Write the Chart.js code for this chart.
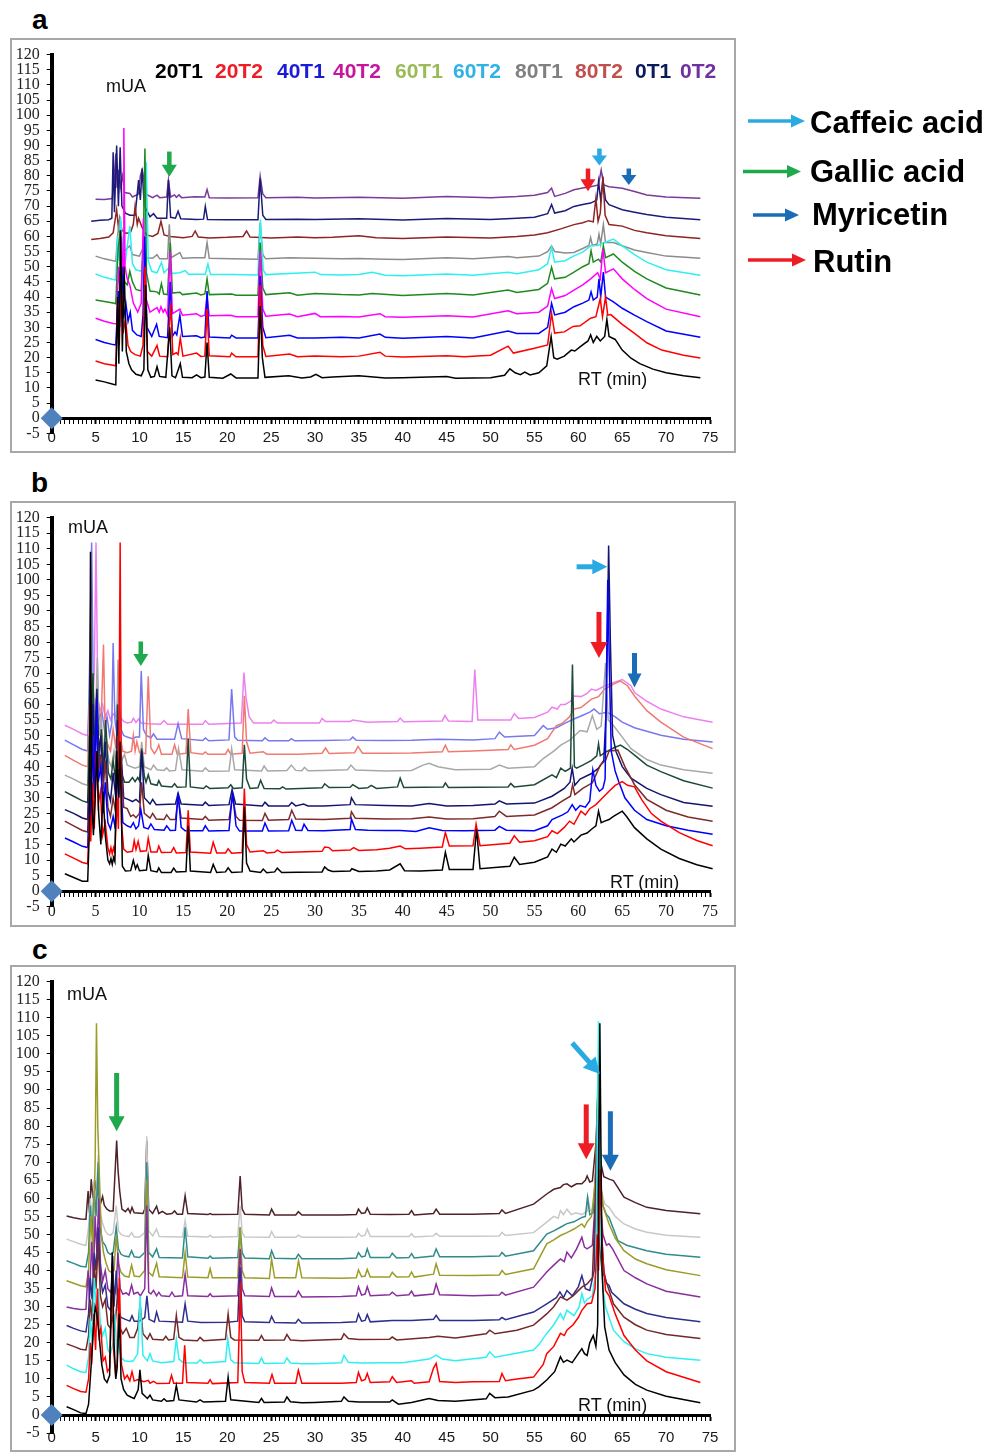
<!DOCTYPE html>
<html>
<head>
<meta charset="utf-8">
<script src="https://cdn.jsdelivr.net/npm/chart.js@4.4.1/dist/chart.umd.min.js"></script>
<style>
  body { margin: 0; width: 991px; height: 1452px; background: #fff; position: relative; overflow: hidden;
         font-family: "Liberation Sans", Arial, sans-serif; }
  .box { position: absolute; left: 10px; width: 726px; }
  .frame { position: absolute; left: 10px; width: 726px; border: 2px solid #a8a8a8; box-sizing: border-box; pointer-events: none; }
  .txt { position: absolute; line-height: 1; white-space: nowrap; }
  .tag { font-weight: bold; font-size: 28px; }
  .hdr { font-weight: bold; font-size: 21px; top: 60px; }
  .unit { font-size: 18px; color: #111; }
  .key { font-weight: bold; font-size: 31px; color: #000; }
</style>
</head>
<body>

<div class="txt tag" style="left:32px;top:6px">a</div>
<div class="txt tag" style="left:31px;top:469px">b</div>
<div class="txt tag" style="left:32px;top:936px">c</div>

<div class="box" style="top:38px;height:415px"><canvas id="chartA" width="726" height="415"></canvas></div>
<div class="frame" style="top:38px;height:415px"></div>
<div class="box" style="top:501px;height:426px"><canvas id="chartB" width="726" height="426"></canvas></div>
<div class="frame" style="top:501px;height:426px"></div>
<div class="box" style="top:965px;height:486px"><canvas id="chartC" width="726" height="486"></canvas></div>
<div class="frame" style="top:965px;height:487px"></div>

<div class="txt unit" style="left:106px;top:77px">mUA</div>
<div class="txt unit" style="left:68px;top:518px">mUA</div>
<div class="txt unit" style="left:67px;top:985px">mUA</div>
<div class="txt unit" style="left:578px;top:370px">RT (min)</div>
<div class="txt unit" style="left:610px;top:873px">RT (min)</div>
<div class="txt unit" style="left:578px;top:1396px">RT (min)</div>

<div id="sampleNames"></div>

<svg style="position:absolute;left:0;top:0" width="991" height="300">
  <g id="keyArrows"></g>
</svg>
<div class="txt key" style="left:810px;top:107px">Caffeic acid</div>
<div class="txt key" style="left:810px;top:156px">Gallic acid</div>
<div class="txt key" style="left:812px;top:199px">Myricetin</div>
<div class="txt key" style="left:813px;top:246px">Rutin</div>

<script>
Chart.defaults.animation = false;
Chart.defaults.font.family = '"Liberation Sans", Arial, sans-serif';

// sample names, panel a
const sampleNames = ['20T1', '20T2', '40T1', '40T2', '60T1', '60T2', '80T1', '80T2', '0T1', '0T2'];

// retention time / absorbance pairs (min, mUA), panel a
const a20T1 = [5,12.6, 6,12, 7,11.2, 7.3,11, 7.5,40, 7.65,18, 7.85,62, 8.05,22, 8.25,50, 8.5,22, 8.8,18, 9.1,16, 9.6,14.5, 10.2,14, 10.5,16, 10.7,44, 10.95,16, 11.3,13.5, 11.7,13.8, 12.0,17, 12.3,13.8, 13.0,13.5, 13.45,30, 13.7,14, 14.1,13.4, 14.3,15, 14.65,18, 14.9,13.5, 16.0,13.4, 16.5,14.3, 17.0,13.4, 17.45,13.6, 17.7,25, 17.95,13.5, 19.5,13.2, 20.4,14.6, 21,13.3, 23.5,13.3, 23.75,37, 24.0,20, 24.3,13.5, 27.0,14, 28.5,13.3, 29.5,13.6, 30.1,14.5, 30.8,13.4, 32,13.6, 35,14, 38,13.3, 40,13.4, 45,13.8, 46,13.2, 50,13.4, 51.6,14.2, 52.2,16.3, 52.8,15, 53.4,14.4, 53.9,15.2, 54.5,14.3, 55.5,15, 56.4,17.3, 56.9,27, 57.2,20, 57.6,19.5, 58.4,20.5, 59.2,22.5, 59.6,22.2, 60.3,23.8, 61.1,25.5, 61.4,27.5, 61.7,25, 62.1,27, 62.5,25.5, 63.0,27, 63.25,32.6, 63.5,27, 64.2,26, 65.0,22.5, 66.0,19.8, 67.0,18, 68.5,16.2, 70,15, 72,14, 73.9,13.4];
const a20T2 = [5,18.9, 6,18, 7,17.5, 7.3,17.3, 7.55,38, 7.7,24, 7.9,45, 8.15,28, 8.4,33, 8.7,24, 9.0,22, 9.5,21, 10.1,20.5, 10.4,24, 10.65,50, 10.9,22, 11.4,20.5, 12.0,24, 12.3,20.5, 13.2,20.3, 13.55,38, 13.8,21, 14.2,21.6, 14.4,21, 14.65,26.5, 14.95,20.5, 16.5,21.5, 17.0,20.4, 17.45,20.5, 17.7,36, 17.95,20.6, 20.3,20.3, 20.5,21.5, 21,20.3, 23.5,20.3, 23.75,44, 24.05,24, 24.4,20.4, 27.1,21.2, 28,20.3, 30,20.5, 33,20.3, 35,20.5, 37.4,21.8, 38,20.5, 40,20.2, 45,20.6, 47,20.3, 50,20.8, 52,23.8, 52.6,21.5, 55,23.1, 56.5,24.2, 56.95,34.6, 57.3,28.1, 58.4,28.5, 59.4,30.3, 60.2,30.5, 61.4,33, 62.0,33.5, 62.5,39.5, 62.75,33.5, 63.1,40, 63.35,34, 63.7,34.2, 65,31, 66.4,28, 67.8,24.9, 69.5,22.5, 72,20.8, 73.9,19.9];
const a40T1 = [5,26, 6,25, 7,24.3, 7.3,24.2, 7.6,42, 7.75,30, 8.0,50, 8.2,33, 8.45,38, 8.7,32, 8.95,35, 9.2,29, 9.7,27.5, 10.2,27, 10.4,34, 10.6,60, 10.85,30, 11.4,27, 11.95,31, 12.25,27, 13.2,26.6, 13.5,45, 13.75,27, 14.05,28.5, 14.25,27.5, 14.6,34, 14.9,27, 16.5,27.2, 17.0,26.6, 17.45,26.8, 17.7,42, 17.95,26.8, 20.3,26.5, 20.5,27.4, 21,26.5, 23.5,26.5, 23.75,47, 24.05,30, 24.4,26.6, 27.1,27.4, 28,26.5, 30,26.5, 33,26.7, 35,26.5, 37.4,27.8, 38,26.7, 40,26.4, 45,27, 48,26.5, 52,28.8, 53,28, 55.5,28, 56.5,30, 56.95,37.9, 57.3,34.1, 58.5,35, 59.5,36.8, 60.5,38, 61.2,39, 61.45,41.7, 61.7,39, 62.15,40, 62.35,46, 62.55,40, 62.85,48.2, 63.1,40, 64,38.4, 65,36.3, 66.4,34, 67.8,31.9, 70,28.8, 73.9,26.7];
const a40T2 = [5,33, 6,32, 7,31.3, 7.4,31.2, 7.6,50, 7.8,42, 7.95,60, 8.15,45, 8.22,95.8, 8.35,50, 8.6,46, 8.9,44, 9.3,38, 9.8,35, 10.2,38, 10.45,66, 10.7,40, 11.2,35, 12.0,36.5, 12.25,35, 12.45,36.8, 12.7,35, 12.9,36, 13.2,34, 13.5,55, 13.75,34.5, 14.6,36, 14.9,34, 16.5,34.5, 17.0,33.6, 17.45,34, 17.7,40, 17.95,33.8, 20.4,34, 21,33.5, 23.5,33.5, 23.75,55, 24.05,36, 24.4,33.7, 27.1,34.4, 28,33.5, 30,34.6, 30.6,33.5, 33,33.6, 35,33.4, 37.4,34.5, 38,33.5, 40,33.3, 45,33.8, 48,33.4, 52,35.5, 53,34.5, 55.5,35, 56.5,37, 56.95,42.8, 57.3,39.5, 58.5,40.5, 59.5,42.3, 60.5,44, 61.4,46, 62.2,48, 62.5,46, 62.8,55.8, 63.1,48, 64,49.3, 65,46, 66.4,42.5, 67.8,39.5, 70,36, 73.9,33.5];
const a60T1 = [5,39, 6,38.5, 7,38, 7.3,37.8, 7.55,55, 7.8,62, 8.05,50, 8.3,45, 8.6,44, 8.9,48.5, 9.2,45, 9.6,42.5, 10.2,42, 10.45,60, 10.62,89, 10.8,48, 11.2,42, 12.0,41.7, 12.25,41, 12.5,44.4, 12.75,41, 13.2,40.8, 13.5,58, 13.75,41.3, 14.6,41.6, 14.9,40.8, 16.5,41.3, 17.0,40.7, 17.45,41, 17.7,46, 17.95,40.8, 20.5,41, 21,40.6, 23.5,40.6, 23.75,58, 24.05,43, 24.4,40.8, 27.1,41.4, 28,40.6, 30,41.2, 33,40.8, 35,40.7, 36.5,41.2, 40,40.5, 45,41.2, 48,40.7, 52,42.3, 53,41.5, 55.5,42.5, 56.5,44.5, 56.95,49.8, 57.3,46, 58.5,46.5, 59.5,48.2, 60.5,50, 61.2,51, 61.45,55.3, 61.7,51.5, 62.3,52.5, 62.55,51.5, 62.85,56.9, 63.1,53, 64,54.2, 65,51.5, 66.4,48.5, 67.8,46, 70,43, 73.9,40.7];
const a60T2 = [5,47.6, 6,46.5, 7,45.8, 7.3,45.6, 7.5,60, 7.7,52, 7.85,66.6, 8.1,55, 8.4,52, 8.9,63.4, 9.2,51, 9.6,49, 10.2,48.5, 10.5,55, 10.78,84.5, 11.0,52, 11.4,48.5, 12.0,48, 12.5,51.4, 12.8,48, 13.3,49.5, 13.6,47.8, 14.6,48, 15.2,48.7, 15.6,47.5, 17.5,47.5, 17.8,50.9, 18.1,47.4, 20.5,47.4, 23.5,47.3, 23.78,65.6, 24.1,49, 24.4,47.4, 27.1,47.8, 30,48.2, 30.6,47.4, 33,47.3, 35,47.4, 36.5,48.2, 38,47.2, 40,47, 45,47.6, 48,47.2, 52,48.2, 53,47.7, 55.5,49, 56.5,51, 56.95,56.4, 57.3,51.5, 58.5,52, 59.5,53.6, 60.5,54.8, 61.4,56.9, 62.2,57, 63,58, 64,59.1, 65,56.9, 66.4,54, 67.8,51.5, 70,49, 73.9,47.2];
const a80T1 = [5,53.5, 6,52.6, 7,52, 7.3,51.8, 7.5,60, 7.7,64.5, 7.9,58, 8.2,55, 8.9,56.9, 9.2,54, 10.0,53.5, 10.3,55.5, 10.6,53, 11.5,52.8, 12.0,54, 12.3,52.6, 13.2,52.6, 13.4,64, 13.6,53, 14.6,54.7, 14.9,52.8, 16.3,53, 17.45,53, 17.7,58, 17.95,52.8, 20.5,52.6, 23.5,52.5, 23.75,64.5, 24.05,54, 24.4,52.6, 27.1,53, 30,52.8, 33,52.6, 35,52.7, 38,52.5, 40,52.4, 45,53, 48,52.6, 52,53.4, 53,53, 55.5,53.5, 56.5,55, 56.95,56.9, 57.3,55, 58.5,54.5, 59.5,54.7, 60.5,56, 61.2,57, 61.4,59.6, 61.6,57, 62.15,57.5, 62.35,60.7, 62.55,57.5, 62.85,63.9, 63.1,58, 64,58, 65,56.9, 66.4,55.5, 67.8,54.7, 70,53.5, 73.9,52.8];
const a80T2 = [4.5,59, 5.5,59.3, 6.5,59.8, 7.0,61.2, 7.4,68.8, 7.6,63, 7.75,66, 8.0,62, 8.5,61, 9.0,61.5, 9.3,64, 9.5,69.9, 9.75,64, 9.9,66, 10.3,63, 10.8,60.5, 11.5,60, 12.1,61, 12.45,65, 12.8,60.5, 13.5,60, 15,59.6, 16.0,60, 16.35,61.8, 16.7,59.8, 18,59.5, 20,59.7, 21.8,60, 22.2,61.8, 22.6,59.8, 25,59.5, 28,59.8, 30,59.6, 32,59.7, 35,60.2, 37,59.6, 40,59.3, 45,59.8, 50,59.5, 53,60, 55,60.5, 56.5,61.2, 58,62.5, 59.5,63.9, 60.5,64.5, 61.2,65.2, 61.7,64.8, 62.0,72.6, 62.25,65, 62.5,67.7, 62.8,79.7, 63.05,67, 63.5,63.9, 65,63.4, 66.4,62, 67.8,61.2, 70,60.2, 73.9,59.3];
const a0T1 = [4.5,65, 5.5,65.3, 6.5,65.5, 6.85,66, 7.0,87.8, 7.15,68, 7.4,90, 7.6,70, 7.8,89.4, 8.0,70, 8.4,67.7, 8.9,67, 9.5,67, 9.9,78.6, 10.1,72, 10.3,82.4, 10.55,70, 10.8,68.8, 11.2,66.5, 11.6,67.5, 12.0,66, 13.1,66, 13.3,78.6, 13.55,66.3, 14.1,66, 14.4,68.3, 14.7,65.8, 16.5,65.6, 17.3,65.7, 17.5,69.9, 17.75,65.6, 20,65.5, 23.5,65.5, 23.75,79.1, 24.05,67, 24.4,65.6, 28,65.7, 30,65.6, 35,65.8, 40,65.4, 45,65.9, 50,65.6, 53,66, 55,66.3, 56.5,67.5, 56.95,70.5, 57.3,67.7, 58.5,68.5, 59.5,69.9, 60.5,70.5, 61.4,71, 62.1,72, 62.3,78.1, 62.55,72, 62.8,78.6, 63.1,72, 63.5,70.5, 65,68.8, 66.4,68, 67.8,67.2, 70,66.3, 73.9,65.5];
const a0T2 = [5,72.3, 6,72.2, 6.9,72.5, 7.1,78, 7.3,87.3, 7.45,76, 7.65,82, 7.8,76, 8.05,80, 8.3,74.5, 8.9,74.2, 9.2,73, 9.9,74, 10.1,80, 10.3,82, 10.5,79, 10.7,74, 11.5,72.8, 12.0,73.6, 12.3,72.8, 13.1,73, 13.3,78.6, 13.55,73, 14.0,73.7, 14.2,72.9, 14.5,73.7, 14.8,72.8, 16.3,73.1, 17.45,73, 17.7,75.5, 17.95,72.8, 20,72.7, 23.5,72.8, 23.75,79.9, 24.05,74, 24.4,72.8, 28,72.9, 30,72.7, 35,72.9, 40,72.6, 45,73.2, 50,72.8, 53,73.2, 55,73.6, 56.5,74.5, 56.95,75.9, 57.3,73.2, 58.5,74.2, 59.5,75.4, 60.5,76, 61.4,76.4, 62.3,77, 62.6,81.9, 62.9,77, 63.5,76.4, 65,75.9, 66.4,74.8, 67.8,73.7, 70,73, 73.9,72.6];

// panel b, bottom trace to top trace
const b1 = [1.5,5.6, 2.5,4.4, 3.5,3.2, 4.1,3.2, 4.3,20, 4.42,109, 4.55,30, 4.75,18, 4.95,30, 5.15,45, 5.35,25, 5.6,15, 5.85,32, 6.1,18, 6.4,10, 6.6,8.8, 6.75,10.5, 6.9,8.6, 7.05,10.8, 7.2,9.5, 7.4,45, 7.6,30, 7.8,48, 8.05,8, 8.4,6.5, 9.0,6.6, 9.3,9.9, 9.55,7.2, 9.75,8.5, 10.0,6.6, 10.8,6.8, 11.0,11.5, 11.3,6.6, 12.0,6.2, 12.2,7.5, 12.5,6, 13.6,6, 13.9,7.4, 14.2,6.2, 15.3,6.3, 15.55,21, 15.8,6.5, 18.1,6, 18.4,8.6, 18.8,6, 19.8,6.2, 20.1,7.5, 20.5,6, 21.7,6.2, 21.95,27, 22.2,9, 22.6,6.5, 23.8,6, 24.1,7.1, 24.5,5.9, 25.4,6.2, 25.7,7.4, 26.2,6, 28,6.1, 30.8,6.2, 31.1,7.8, 31.5,6.8, 32,6.3, 34,6.5, 34.2,7.2, 35,6.3, 37,6.5, 38.5,6.8, 39.7,8.8, 40.2,6.6, 42,6.5, 44.5,6.8, 44.85,12.5, 45.3,7, 48.0,7, 48.4,19.9, 48.8,7.2, 52.2,8, 52.7,10.9, 53.3,8.6, 55,9.3, 56.5,11, 57,13.5, 57.5,12.5, 58,15.1, 58.5,14.5, 59.2,16.8, 59.5,15.8, 60.3,18, 61,18.7, 61.5,19.9, 62.0,21, 62.3,25.7, 62.6,22, 63,22.5, 63.5,23, 64,24, 65,25.7, 65.5,24, 66.4,20.4, 67.8,16.8, 69.4,13.5, 71.5,10.5, 73.5,8.5, 75.3,7.2];
const b2 = [1.5,12, 2.5,10.6, 3.5,9.2, 4.1,8.8, 4.3,25, 4.45,16, 4.65,35, 4.85,20, 5.1,45, 5.3,28, 5.55,32, 5.8,18, 6.1,22, 6.4,14, 6.6,12, 6.75,14, 6.9,12, 7.05,14, 7.2,12.5, 7.45,30, 7.6,20, 7.8,112, 7.95,22, 8.2,13.5, 8.6,12.5, 9.2,12.8, 9.4,16.2, 9.6,13.4, 9.85,16, 10.1,12.8, 10.8,13, 11.0,17, 11.3,12.6, 12.0,12.6, 12.2,14.5, 12.5,12.4, 13.6,12.5, 13.9,14, 14.2,12.3, 15.3,12.4, 15.55,26, 15.8,12.6, 18.1,12.2, 18.4,15.7, 18.8,12.3, 19.8,12.3, 20.1,13.6, 20.5,12.2, 21.7,12.4, 21.95,33, 22.2,15, 22.6,12.6, 24.1,13, 24.5,12.3, 25.4,12.5, 25.7,13.2, 26.2,12.4, 28,12.6, 30.8,12.8, 31.1,14.2, 31.6,14, 32,13, 34,13.2, 34.4,14, 35,13.1, 37,13.3, 38.5,13.8, 39.7,14.5, 40.3,13.6, 42,13.8, 44.5,14.2, 44.85,18.8, 45.3,14.5, 48,14.6, 48.35,21.5, 48.8,14.6, 52.2,15.4, 52.7,17.8, 53.3,15.7, 55,16.2, 56.5,17.5, 57,19.4, 57.6,18.5, 58.4,20.5, 59,22.5, 59.5,21.5, 60.3,25.7, 60.8,24.5, 61.3,26.5, 62,27.8, 62.6,29.5, 63.5,32.1, 64.2,34, 65,35.2, 65.6,34, 66.4,33.5, 67.2,29.5, 68.3,25, 69.4,22.5, 71.5,18.8, 73.5,16.3, 75.3,14.6];
const b3 = [1.5,17.1, 2.5,15.8, 3.5,14.4, 4.1,14, 4.3,30, 4.45,22, 4.65,50, 4.85,30, 5.1,62, 5.3,35, 5.6,40, 5.85,25, 6.1,35, 6.4,22, 6.7,20, 7.0,24, 7.25,20, 7.45,42, 7.65,30, 7.85,38, 8.1,22, 8.6,21, 9.0,20.5, 9.3,22, 9.6,20, 9.9,21, 10.15,26.3, 10.5,20.5, 11.0,20, 11.3,21.6, 11.7,19.8, 12.8,19.6, 13.1,21, 13.5,19.5, 14.1,19.6, 14.4,31.6, 14.75,20.5, 15.2,19.4, 17.2,19.4, 17.5,21, 17.9,19.3, 20.2,19.5, 20.6,31.6, 21.0,21, 21.4,19.3, 24,19.3, 24.3,21.9, 24.7,19.3, 27,19.4, 27.35,22.8, 27.8,19.6, 28.5,19.5, 28.75,21.5, 29.2,19.5, 31,19.4, 34,19.8, 34.15,23.2, 34.6,19.8, 36,19.6, 38,19.5, 39.7,19.5, 41.5,19.2, 43,20.4, 44.5,19.5, 47,19.4, 50.5,19.6, 51,20.8, 51.8,19.6, 55,19.4, 56.5,21, 57,23, 58.2,24.5, 58.8,25.5, 59.3,27.8, 59.7,26, 60.2,27.5, 60.8,27, 61.3,29, 61.65,39, 62,34, 62.4,32.1, 62.8,33, 63.05,36, 63.35,100, 63.55,70, 63.75,45, 64.2,38.5, 64.6,35.2, 65.3,30, 66.4,26, 67.8,23, 70,21, 72.5,19.6, 75.3,18.3];
const b4 = [1.5,22.5, 2.5,21, 3.5,19.5, 4.1,19, 4.3,35, 4.45,26, 4.7,50, 4.9,32, 5.1,58, 5.35,38, 5.55,44, 5.8,30, 6.1,42, 6.4,27, 6.7,24, 7.0,30, 7.3,25, 7.5,50, 7.7,35, 7.9,40, 8.2,27, 8.6,26.5, 9.0,24, 9.3,24.5, 9.6,23.6, 10.0,25, 10.25,35, 10.55,25, 11.2,23.5, 11.5,25, 11.9,23.2, 12.8,23, 13.1,24.5, 13.5,23, 14.1,23, 14.4,30, 14.75,23.5, 17.2,23, 17.5,24, 17.9,22.8, 20.2,23, 20.6,30.5, 21.0,24, 21.4,22.8, 24,22.7, 24.3,25, 24.7,22.8, 27,23, 27.35,26, 27.8,23.2, 31,23, 34,23.4, 34.15,25.5, 34.6,23.4, 38,23.2, 41,23.3, 43,23.8, 45,23.2, 48,23.3, 50.5,24, 51,25.7, 51.8,24, 55,24.5, 57,26.8, 58.2,29, 59.1,30.5, 59.35,34.2, 59.6,31, 60.5,33, 61.6,34.8, 62.5,40.5, 63.1,42, 63.5,45, 64.5,45.3, 65.3,40, 66.4,34.2, 67.8,29.5, 70,26, 72.5,23.8, 75.3,22.5];
const b5 = [1.5,26.2, 2.5,25, 3.5,23.5, 4.1,23, 4.3,40, 4.45,30, 4.7,60, 4.9,38, 5.15,65, 5.35,45, 5.6,50, 5.85,35, 6.1,48, 6.4,32, 6.7,29, 7.0,38, 7.3,30, 7.5,55, 7.7,40, 7.9,45, 8.2,30, 8.7,29.5, 9.2,28.8, 9.6,29.5, 10.0,28.5, 10.25,45, 10.55,30, 11.2,28, 11.5,29.5, 11.9,27.8, 14.1,28, 14.4,31.5, 14.75,28, 17.2,27.6, 17.5,28.6, 17.9,27.5, 20.2,27.8, 20.55,32.6, 20.95,28, 24,27.4, 24.3,28.6, 24.7,27.4, 27,27.4, 27.35,28.5, 27.8,27.4, 28.7,28, 29.2,27.4, 31,27.4, 34,27.8, 34.15,30, 34.6,27.8, 38,27.5, 41,27.4, 43,28.2, 45,27.4, 48,27.5, 50.5,28, 51,29, 51.8,28, 55,28.3, 57,30.5, 58.4,33, 59.05,35, 59.3,39.5, 59.6,34, 60.2,36, 61.5,37.8, 62.3,39.5, 62.9,42, 63.2,60, 63.45,111, 63.65,80, 63.9,50, 64.3,44.8, 65,40, 66,36.3, 67.8,33, 69.4,31, 72,28.5, 75.3,27.3];
const b6 = [1.5,32, 2.5,30.5, 3.5,29, 4.1,28.5, 4.3,50, 4.45,38, 4.7,70, 4.9,45, 5.15,60, 5.4,42, 5.65,52, 5.9,38, 6.15,55, 6.45,38, 6.75,36, 7.0,42, 7.3,35, 7.5,60, 7.7,45, 7.95,38, 8.3,35, 8.8,35, 9.2,36.5, 9.5,35.2, 9.8,36.5, 10.0,35.5, 10.25,45.8, 10.55,37, 10.75,35, 11.0,37.4, 11.3,34.5, 12.0,34, 12.2,35.5, 12.5,33.8, 13.7,33.5, 14.0,34.5, 14.3,33.4, 15.3,33.5, 15.55,49, 15.8,33.5, 17.3,33, 17.6,33.8, 18.0,33, 20.1,33.2, 20.4,34.2, 20.7,33, 21.7,33.2, 21.95,47, 22.2,36, 22.6,33, 23.5,33.2, 23.8,35.6, 24.2,33, 26,32.9, 26.3,33.5, 26.7,32.8, 30.8,33.2, 31.1,34.5, 31.6,33.3, 34,33.4, 34.3,34.2, 35,33, 36,33.2, 36.4,34, 37,33, 39.4,33.5, 39.7,36.3, 40.1,33.3, 44.6,33.5, 44.85,34.8, 45.2,33.3, 52,33.5, 52.3,34.6, 52.7,33.5, 55,34.2, 57,37.4, 57.5,36.5, 58,39.5, 58.5,38.5, 59.1,39.5, 59.33,72.8, 59.55,40, 59.8,39.5, 60.5,40.5, 61.5,42, 62.1,43.5, 62.3,47.4, 62.5,43.5, 63,44.5, 64,46, 64.8,46.9, 65.6,45.5, 66.4,43.7, 67.8,40.5, 69.4,38.4, 72,35.5, 75.3,33.1];
const b7 = [1.5,37.3, 2.5,36, 3.5,34.5, 4.1,34, 4.3,55, 4.45,42, 4.7,65, 4.9,48, 5.2,75, 5.4,50, 5.65,55, 5.9,45, 6.15,50, 6.5,42, 6.8,40, 7.1,45, 7.35,40, 7.55,74.4, 7.75,48, 8.0,42, 8.3,44, 8.6,40.5, 9.5,39.5, 10.0,40, 10.25,48, 10.55,40, 11.3,39, 11.6,40.5, 12,39, 12.8,38.8, 13.1,39.6, 13.4,38.6, 14.1,38.8, 14.45,45.8, 14.85,39, 17.2,38.5, 17.5,39.6, 17.9,38.5, 20.2,38.6, 20.5,45.8, 20.85,39, 23.9,38.6, 24.2,40.2, 24.6,38.6, 26.8,38.8, 27.3,40.5, 27.8,38.8, 28.5,38.7, 28.8,39.8, 29.2,38.7, 31,38.8, 33.7,39, 34.1,40.5, 34.6,38.9, 38,38.6, 41,38.8, 42.3,40.5, 43,41.1, 44,40, 46,39, 50,39.2, 51,40.5, 52,39.5, 55,40, 56,42.6, 57.2,45, 58,46.9, 59,48.5, 59.6,50, 60.2,51.6, 61,51.2, 61.6,56.4, 62.1,52, 62.6,53, 63.1,73.3, 63.4,55, 64,53.2, 65,49.5, 66,45.8, 67.8,42.3, 69.4,40.5, 72,39, 75.3,37.9];
const b8 = [1.5,43.6, 2.5,42, 3.5,40.5, 4.1,40, 4.3,60, 4.45,48, 4.7,68, 4.9,52, 5.15,62, 5.4,50, 5.65,56, 5.9,79.2, 6.1,50, 6.4,47, 6.7,45, 7.0,52, 7.3,46, 7.55,58, 7.8,50, 8.1,45, 8.6,44.5, 9.1,45, 9.3,50, 9.5,45, 9.7,48, 10.0,44.5, 10.7,44.2, 11.0,69, 11.3,46, 11.7,44.2, 12.0,45.5, 12.2,47, 12.5,44, 13.7,44, 14.0,47, 14.3,44, 15.3,44.3, 15.55,58.5, 15.85,44.5, 17.2,44, 17.5,44.7, 17.8,44, 19.8,44, 20.1,45.5, 20.4,44, 21.7,44.3, 21.95,62.8, 22.2,48, 22.6,44.3, 24.1,44.8, 24.5,44, 28,44, 30.8,44.3, 31.2,46, 31.6,44.2, 34.5,44.5, 34.9,46.5, 35.4,44.3, 38,44.3, 41,44.4, 44.5,44.8, 44.85,46.9, 45.2,44.8, 48,45, 52,45.5, 52.3,47, 52.7,45.5, 55,46.9, 56.5,49, 57.5,53.2, 58.2,54, 59,56, 59.5,58.5, 60.3,59, 61.5,61.7, 62.3,62.5, 63,64.9, 64,66.5, 64.8,67.5, 65.6,66, 66.4,62.7, 67.8,58, 69.4,54.3, 72,49.5, 75.3,45.8];
const b9 = [1.5,48.5, 2.5,47, 3.5,45.5, 4.1,45, 4.3,70, 4.55,112, 4.75,60, 4.95,55, 5.2,68, 5.4,55, 5.7,58, 6.0,52, 6.3,56, 6.6,50, 6.85,54, 7.0,79.7, 7.2,55, 7.45,50, 7.7,60, 7.9,52, 8.2,50, 8.6,49.5, 9.2,49, 9.6,49.5, 10.0,49.5, 10.2,70.7, 10.45,52, 10.8,50, 11.3,49.2, 11.6,50.5, 12,48.8, 14,48.8, 14.4,53.8, 14.8,49, 17.2,48.4, 17.5,49.2, 17.9,48.3, 20.2,48.6, 20.5,64.9, 20.85,49.5, 21.2,48.5, 24,48.3, 24.3,49.3, 24.7,48.3, 27,48.3, 27.3,49, 27.7,48.3, 31,48.4, 34,48.6, 34.3,49.5, 34.7,48.5, 38,48.4, 41,48.5, 44,48.8, 48,48.6, 50.5,49, 51,51.1, 51.6,49.5, 55,50, 56,53.2, 56.5,52, 57.5,52.5, 58.5,54, 59.5,55.3, 60.5,56.5, 61.3,57.5, 61.8,58.5, 62.4,57, 63.3,57.5, 64.2,56, 65,54.3, 66.4,52.5, 69.4,50.1, 72,48.8, 75.3,47.9];
const b10 = [1.5,53.3, 2.5,52, 3.5,50.5, 4.1,50, 4.4,65, 4.65,60, 4.85,70, 5.05,112, 5.25,62, 5.5,58, 5.8,60, 6.1,56, 6.4,58, 6.7,55, 7.0,57, 7.3,56, 7.55,62, 7.8,56, 8.2,54.5, 8.6,54, 9.1,54.3, 9.3,55.5, 9.6,54.2, 9.9,55.3, 10.2,54, 11,53.8, 12.4,53.6, 12.8,54.8, 13.2,53.6, 17.2,53.6, 17.5,54.8, 17.9,53.6, 21.6,54, 21.9,70.2, 22.15,62, 22.5,56, 23,54, 25,54, 25.3,55, 25.7,54, 30.5,54, 30.8,55.5, 31.2,54.5, 34,54.5, 34.3,55, 36,54.3, 39.4,54.5, 39.7,55.6, 40.1,54.4, 44.5,54.7, 44.8,56.4, 45.2,54.7, 47.9,54.5, 48.2,71.2, 48.55,55, 52.3,55, 52.7,57, 53.2,55.5, 55,55.8, 56.5,57.5, 57,59.1, 57.6,58.5, 58,60, 58.5,60, 59.1,61, 59.5,62.7, 60.3,62.5, 61,63.5, 61.5,64.9, 62,64.5, 63,65.9, 64,67, 65,68, 66,66, 66.4,63.8, 67.8,61, 69.4,58.5, 72,56, 75.3,54.3];

// panel c, bottom trace to top trace
const c1 = [1.7,2.3, 2.5,1.5, 3.3,0.6, 3.9,0.4, 4.2,3, 4.45,12, 4.7,22, 4.95,30, 5.15,28, 5.4,22, 5.7,14, 6.0,10, 6.3,9, 6.6,11, 6.9,45, 7.1,20, 7.3,10, 7.45,13, 7.7,28, 7.9,10, 8.2,7, 8.6,5.5, 9.0,5, 9.4,4.6, 9.85,7, 10.05,12.5, 10.3,6, 10.9,4.6, 11.2,5.5, 11.5,4.2, 12.5,3.8, 12.8,4.5, 13.1,3.8, 13.9,4, 14.2,8.2, 14.5,4.2, 16.5,3.6, 16.9,4.2, 17.3,3.6, 19.8,3.8, 20.1,10.5, 20.4,4.2, 23.6,3.5, 23.9,4.6, 24.2,3.5, 26.5,3.6, 26.8,5, 27.2,3.7, 28.5,3.4, 30,3.5, 33.0,3.8, 33.3,5, 33.8,3.8, 35,3.6, 38.5,3.6, 38.8,4.2, 39.5,3, 41,3.5, 43,4.6, 44,4, 46,3.8, 49.5,4.5, 49.9,6, 50.5,4.8, 52,5, 54.9,6.9, 55.5,7.8, 56.4,9.7, 57.3,12, 57.96,16.1, 58.3,14.6, 58.7,15.2, 59.3,14.5, 60.0,17, 60.4,18.4, 60.7,17, 61.0,16.5, 61.3,20, 61.7,22, 62.0,19, 62.2,25, 62.45,108.5, 62.7,40, 63,24.4, 63.5,18, 64.2,14.5, 65.2,11.1, 66.5,8.5, 67.8,6.9, 70,5.2, 73.9,3.4];
const c2 = [1.7,8.2, 2.5,7.3, 3.3,6.5, 3.9,6.3, 4.2,10, 4.4,20, 4.55,14, 4.8,28, 5.0,18, 5.2,35, 5.4,22, 5.6,24, 5.85,15, 6.1,16, 6.35,12, 6.6,13, 6.9,42, 7.05,18, 7.25,12, 7.45,14, 7.7,38, 7.95,14, 8.3,10, 8.6,11, 8.9,9.5, 9.15,12, 9.4,9.4, 9.8,9.8, 10.5,9.2, 11.0,9.6, 11.2,8.8, 11.6,9.3, 12.0,8.7, 13.4,8.8, 13.65,11, 13.9,8.8, 14.9,8.8, 15.15,19.3, 15.4,9, 17.8,8.8, 18.05,9.8, 18.3,8.7, 21.2,9, 21.5,37, 21.7,12, 22,9, 24.8,8.8, 25.1,11.2, 25.4,8.8, 27.8,8.8, 28.1,12.4, 28.5,8.8, 33,8.8, 34.7,9, 34.95,11.8, 35.3,9.5, 35.7,9.8, 35.95,11.5, 36.3,9, 38.5,9.2, 38.8,10.6, 39.3,9, 41,9.5, 41.3,8.8, 43,9.2, 43.5,13, 43.8,14.3, 44.2,9.3, 46,9, 48,9.2, 51,9.3, 51.3,11.5, 51.7,9.5, 53,10, 54.9,10.5, 56,14, 56.4,17, 57.2,19, 57.96,22.6, 58.4,22, 58.7,23.5, 59.4,25, 60,27, 60.4,29, 61,30.8, 61.5,31, 61.9,35, 62.15,50, 62.3,40, 62.5,68, 62.75,45, 63.1,34.5, 63.5,33, 64.2,28, 65.2,22, 66.5,18, 67.8,15, 70,12, 73.9,9];
const c3 = [1.7,13.8, 2.5,12.8, 3.3,12, 3.9,11.8, 4.2,16, 4.4,27, 4.6,20, 4.85,38, 5.1,28, 5.3,35, 5.55,25, 5.8,22, 6.1,24, 6.4,18, 6.7,17, 7.0,20, 7.2,28, 7.4,18, 7.6,20, 7.9,16, 8.3,15, 8.8,14.8, 9.3,15, 9.8,17, 10.07,33, 10.4,16.5, 10.9,15, 11.2,17, 11.5,15, 12.5,14.5, 13.9,14.8, 14.2,21, 14.5,15.5, 15,14.5, 16.6,14.4, 16.9,15.3, 17.3,14.4, 19.8,14.8, 20.05,21.1, 20.4,15.3, 20.8,14.5, 23.6,14.3, 23.9,15.8, 24.2,14.3, 26.5,14.4, 26.8,15.8, 27.2,14.4, 28.5,14.2, 30,14.2, 33,14.5, 33.3,16.5, 33.8,14.6, 35,14.4, 38,14.5, 40,14.5, 43,15.5, 43.8,16.6, 44.5,15.5, 46,15, 49.5,16, 49.9,17.5, 50.5,16, 54.9,18, 55.5,19.5, 56.4,22.6, 57.2,25, 57.96,28.1, 58.3,26.5, 58.7,29, 59.5,27.5, 60.1,30, 60.4,33.6, 60.7,31, 61.0,32, 61.6,33, 62.0,40, 62.3,109, 62.55,50, 62.8,35, 63.1,29.9, 64,23.5, 65.2,20.3, 66.5,18.3, 67.8,17, 70,16, 73.9,15.2];
const c4 = [1.7,19.7, 2.5,19, 3.3,18.2, 3.9,18, 4.2,22, 4.4,32, 4.6,26, 4.85,42, 5.05,35, 5.3,48, 5.55,33, 5.8,30, 6.1,32, 6.4,25, 6.7,24, 6.9,27, 7.2,24, 7.55,35, 7.8,24, 8.1,22.5, 8.5,24, 8.9,21.5, 9.4,21.5, 9.8,24, 10.07,30.8, 10.4,22.5, 10.9,21, 11.2,22.5, 11.5,21, 12.7,20.8, 13.0,21.8, 13.3,20.8, 13.9,21, 14.2,27.6, 14.5,21.5, 15,20.8, 16.6,20.6, 16.9,21.5, 17.3,20.6, 19.8,21, 20.1,28, 20.4,21.5, 20.8,20.8, 23.6,20.7, 23.9,22, 24.2,20.7, 26.5,20.8, 26.8,22.3, 27.2,20.8, 28.5,20.6, 30,20.7, 33,21, 33.3,22.5, 33.8,21.2, 35,20.9, 38.5,21, 38.8,21.6, 39.3,20.8, 43,21.5, 44,21.8, 46,21.3, 49.5,22.5, 49.9,23.5, 50.5,22.5, 53,23.5, 54.9,24.9, 56.4,28, 57.2,30, 57.96,32.7, 58.7,31.8, 59.4,33, 60.4,35.4, 61,36.3, 61.6,38, 61.95,60, 62.1,75, 62.3,50, 62.7,40, 63.1,37.5, 64,30.8, 65.2,27.1, 66.5,25, 67.8,23.5, 70,22.3, 73.9,21.2];
const c5 = [1.7,24.8, 2.5,24, 3.3,23.3, 3.9,23, 4.2,28, 4.4,38, 4.6,32, 4.85,45, 5.05,40, 5.3,52, 5.55,38, 5.8,34, 6.1,36, 6.4,30, 6.7,29, 6.95,44, 7.1,30, 7.35,40, 7.6,29, 7.9,27, 8.4,26.5, 8.9,26, 9.15,27.5, 9.4,26, 10,26, 10.6,27, 10.85,33, 11.1,26.5, 11.7,25.8, 11.95,28.5, 12.25,26, 14.9,25.7, 15.2,30.8, 15.5,26, 17,25.6, 20,25.7, 21.2,26, 21.45,41, 21.7,27.5, 22,25.8, 24.8,25.6, 25.05,27.3, 25.4,25.6, 27.8,25.5, 28.1,26.5, 28.5,25.5, 33,25.6, 34.7,25.8, 34.95,28, 35.3,26, 35.7,26.2, 35.95,27.8, 36.3,25.8, 38.8,26.2, 41,26.2, 43.5,26.5, 43.8,27.6, 44.2,26.2, 48,26.2, 51,26.4, 51.3,27, 51.7,26.4, 54.9,28.5, 56.4,30.8, 57.5,32.5, 57.9,34.1, 58.3,32.5, 58.7,34.5, 59.3,33, 60,35.5, 60.4,38.6, 60.8,35, 61.3,34.5, 61.8,40, 62.05,65, 62.3,80, 62.55,55, 62.9,40, 63.2,36.5, 63.5,35.9, 63.8,34, 65.2,30.8, 66.5,29.3, 67.8,28.1, 70,27, 73.9,25.8];
const c6 = [1.7,29.9, 2.5,29.5, 3.3,29.2, 3.9,29.3, 4.15,40, 4.3,32, 4.55,48, 4.75,38, 4.95,55, 5.15,45, 5.35,60, 5.55,42, 5.8,37, 6.1,40, 6.4,35, 6.7,34, 7.0,36, 7.3,34, 7.55,45, 7.8,35, 8.1,33.5, 8.5,33.8, 8.8,33.2, 9.1,36, 9.35,33.5, 9.8,34, 10.1,33, 10.6,35, 10.83,58, 11.05,34, 11.3,33.5, 11.6,34.5, 11.95,33, 12.2,34, 12.5,33, 13.4,32.8, 13.7,34, 14,32.8, 14.9,33, 15.2,39, 15.5,33, 17.8,32.8, 18.05,33.6, 18.3,32.8, 21.2,33, 21.47,46, 21.7,35, 22,33, 24.8,32.8, 25.05,35.2, 25.4,32.8, 27.8,32.8, 28.1,34.3, 28.5,32.7, 33,32.8, 34.7,33, 34.95,35.5, 35.3,33.2, 35.7,33.5, 35.95,35.5, 36.3,33, 38.5,33.3, 38.8,34, 39.3,33, 40.7,33.3, 41,34.3, 41.3,33, 43.5,33.5, 43.8,36.3, 44.2,33.3, 48,33, 51,33.2, 51.3,34, 51.7,33.2, 54.9,35.4, 56.4,39.6, 57.2,41.5, 57.96,43.2, 58.4,42.5, 58.7,45.1, 59.2,43.5, 59.8,46, 60.4,49.2, 60.7,46.5, 61,46, 61.6,47, 61.95,60, 62.2,85, 62.45,60, 62.8,50, 63.2,47, 63.5,47.4, 63.9,46, 65.2,40, 66.5,38, 67.8,36.3, 70,34.3, 73.9,32.7];
const c7 = [1.7,37.2, 2.5,36.5, 3.3,35.8, 3.9,35.5, 4.2,40, 4.45,55, 4.7,45, 4.95,70, 5.1,108.5, 5.25,80, 5.45,65, 5.65,50, 5.9,45, 6.2,42, 6.5,40, 6.8,39.5, 7.1,40, 7.35,50, 7.6,42, 7.9,39.5, 8.3,38.5, 8.8,38.2, 9.1,41.5, 9.4,38.5, 10,38.3, 10.6,40, 10.83,65, 11.05,39.5, 11.5,38.5, 11.95,42, 12.25,38.3, 14.9,38, 15.2,45, 15.5,38.2, 17.8,38, 18.05,40.5, 18.3,38, 21.2,38, 21.47,52, 21.7,40, 22,38, 24.8,37.8, 25.05,43.2, 25.4,38, 27.8,38, 28.12,42.7, 28.5,38, 33,37.9, 34.7,38, 34.95,40.2, 35.3,38.3, 35.7,38.5, 35.95,40.3, 36.3,38.2, 38.5,38.2, 38.8,39.5, 39.3,38.2, 40.7,38.3, 41,39.6, 41.3,38.2, 43.5,39, 43.8,41.9, 44.2,38.7, 48,38.6, 51,38.8, 51.3,40, 51.7,38.9, 54.9,40.5, 56.4,47.4, 57.2,48.5, 57.96,49.7, 58.7,50.5, 59.5,51.5, 60.4,52.9, 60.7,52, 61,53.5, 61.5,55, 61.95,65, 62.25,95, 62.5,65, 62.8,58, 63.2,55, 63.5,52.9, 64.2,49, 65.2,45.5, 66.5,43.2, 67.8,41.9, 70,40.2, 73.9,38.6];
const c8 = [1.7,42.7, 2.5,42, 3.3,41.2, 3.9,41, 4.2,45, 4.4,58, 4.6,50, 4.85,62, 5.05,55, 5.3,70, 5.5,52, 5.8,48, 6.1,47, 6.4,45, 6.7,44.5, 7.0,45, 7.35,52, 7.6,46, 7.9,44.5, 8.3,44, 8.8,43.8, 9.1,45.5, 9.4,43.8, 10,43.6, 10.6,45, 10.83,70, 11.05,45, 11.5,43.8, 11.95,46, 12.25,43.6, 14.9,43.5, 15.2,52, 15.5,43.8, 17.8,43.4, 18.05,44, 18.3,43.4, 21.2,43.6, 21.47,52, 21.7,45, 22,43.5, 24.8,43.3, 25.05,45.5, 25.4,43.4, 27.8,43.3, 28.1,44.5, 28.5,43.3, 33,43.3, 34.7,43.5, 34.95,45, 35.3,43.8, 35.7,44, 35.95,46, 36.3,43.6, 38.5,43.6, 38.8,44.8, 39.3,43.5, 40.7,43.6, 41,44.7, 41.3,43.5, 43.5,44, 43.8,46, 44.2,43.8, 48,43.8, 51,44, 51.3,45, 51.7,44, 54.9,45.5, 56.4,50.1, 57.2,51, 57.96,52, 58.7,53, 59.5,53.5, 60.4,54.7, 60.8,55, 61.05,60.3, 61.3,55.5, 61.7,56, 62.0,70, 62.2,88, 62.45,66, 62.8,58, 63.2,55.5, 63.5,54.7, 64.5,48.3, 65.5,47, 67.8,45.5, 70,44.5, 73.9,43.7];
const c9 = [1.7,48.7, 2.5,48, 3.3,47.3, 3.9,47, 4.2,52, 4.4,60, 4.6,55, 4.85,65, 5.05,58, 5.3,72, 5.5,56, 5.8,53, 6.1,51, 6.4,50, 6.7,49.8, 7.0,50.5, 7.35,58, 7.6,51, 7.9,50, 8.3,49.6, 8.8,49.4, 9.1,50.5, 9.4,49.3, 10,49.3, 10.6,50.5, 10.83,77.2, 11.05,51, 11.5,49.6, 11.95,51.5, 12.25,49.4, 14.9,49.3, 15.2,53.8, 15.5,49.5, 17.8,49.3, 18.05,49.8, 18.3,49.2, 21.2,49.4, 21.47,58, 21.7,50.5, 22,49.3, 24.8,49.2, 25.05,50.8, 25.4,49.2, 27.8,49.2, 28.1,49.8, 28.5,49.2, 33,49.2, 34.7,49.3, 34.95,50.3, 35.3,49.5, 35.7,49.8, 35.95,51.5, 36.3,49.4, 38.5,49.4, 40.7,49.4, 41,50.2, 41.3,49.3, 43.5,49.6, 43.8,50.3, 44.2,49.5, 48,49.5, 51,49.6, 51.3,50.6, 51.7,49.7, 54.9,50.5, 56.4,53.4, 57.2,55, 57.7,54.5, 57.96,56.6, 58.3,55.5, 58.7,57, 59.2,55.5, 59.7,56, 60.4,55.5, 61,56.5, 61.05,60.7, 61.35,56.5, 61.8,57, 62.05,70, 62.4,80, 62.65,62, 63,58.5, 63.5,57.5, 64.2,55, 65.2,52.9, 66.5,51.5, 67.8,50.6, 70,49.8, 73.9,49.2];
const c10 = [1.7,55.1, 2.5,54.6, 3.3,54.3, 3.9,54.2, 4.15,62, 4.3,56, 4.5,65.3, 4.7,60, 4.9,65, 5.1,60, 5.3,63, 5.5,58, 5.8,60.5, 6.0,58, 6.3,57, 6.6,56.5, 7.0,56.5, 7.4,76, 7.55,68, 7.75,62, 8.0,57, 8.4,56.3, 8.7,57.2, 8.95,56, 9.15,57.5, 9.4,56, 10.4,55.8, 10.6,57, 10.83,76, 11.05,57, 11.5,55.8, 11.95,57.8, 12.2,55.8, 12.6,56.4, 13.1,55.6, 13.7,55.8, 14.0,56.5, 14.3,55.6, 14.9,55.6, 15.2,60.7, 15.5,55.8, 17.8,55.5, 18.05,55.8, 18.3,55.5, 21.2,55.6, 21.47,66.2, 21.7,57, 22,55.6, 24.8,55.4, 25.05,57, 25.4,55.4, 27.8,55.4, 28.1,56.3, 28.5,55.4, 33,55.4, 34.7,55.5, 34.95,57, 35.3,55.8, 35.7,56, 35.95,57.3, 36.3,55.6, 38.5,55.5, 40.7,55.6, 41,56.6, 41.3,55.4, 43.5,55.8, 43.8,57, 44.2,55.6, 48,55.6, 51,55.8, 51.3,56.8, 51.7,55.8, 54.9,58.4, 56.4,61.2, 57.2,62.5, 57.96,63, 58.3,63.8, 58.7,64, 59.2,63.2, 59.8,64, 60.4,64, 60.8,65, 61,66.2, 61.3,64.5, 61.6,64.8, 62.0,75, 62.3,92, 62.55,70, 62.9,66, 63.5,65.3, 64,64.9, 65.2,60.3, 66.5,58.8, 67.8,57.5, 70,56.6, 73.9,55.7];

const yTicks = [-5, 120, 5];   // min, max, step
const xTicks = [0, 75, 0.5];   // minor tick every half minute, labelled every 5

// trace colours
const nameColors = ['#000000', '#ee1c24', '#1c1cd8', '#c8169c', '#9bbb59', '#2fb2e4', '#808080', '#c0504d', '#0a1a5a', '#7030a0'];
const lineColorsA = ['#000000', '#ff0000', '#0000ff', '#ff00ff', '#1e8a1e', '#2ef0f0', '#8c8c8c', '#8e2323', '#1c1c78', '#7a3a98'];
const lineColorsB = ['#000000', '#ff0000', '#0000ff', '#7e2a2a', '#14146e', '#1d4a38', '#a8a8a8', '#f07a72', '#7878f0', '#ee80ee'];
const lineColorsC = ['#000000', '#ff0000', '#2ef0f0', '#742828', '#2e2e8e', '#8a2e9e', '#9c9c28', '#2e8c8c', '#c8c8c8', '#4e2228'];

const GREEN = '#1fa84c', CYAN = '#2aaae2', BLUE = '#1b6cb6', RED = '#ee1c24';

// compound markers, in (min, mUA)
const arrowsA = [
  {from: [13.4, 88], to: [13.4, 79.7], color: GREEN, shaft: 4.5, head: 12, headW: 15},
  {from: [62.4, 89], to: [62.4, 83.4], color: CYAN, shaft: 4.5, head: 10, headW: 15},
  {from: [65.75, 82.4], to: [65.75, 77], color: BLUE, shaft: 4.5, head: 10, headW: 15},
  {from: [61.1, 82.4], to: [61.1, 74.9], color: RED, shaft: 4.5, head: 12, headW: 15}
];
const arrowsB = [
  {from: [10.15, 80.2], to: [10.15, 72.3], color: GREEN, shaft: 4.5, head: 12, headW: 15},
  {from: [59.8, 104.2], to: [63.3, 104.2], color: CYAN, shaft: 5, head: 15, headW: 15},
  {from: [62.35, 89.7], to: [62.35, 74.9], color: RED, shaft: 5, head: 16, headW: 17},
  {from: [66.4, 76.5], to: [66.4, 65.4], color: BLUE, shaft: 5, head: 14, headW: 14}
];
const arrowsC = [
  {from: [7.4, 94.7], to: [7.4, 78.6], color: GREEN, shaft: 5, head: 15, headW: 16},
  {from: [59.3, 103], to: [62.45, 94.4], color: CYAN, shaft: 5, head: 16, headW: 17},
  {from: [60.9, 86], to: [60.9, 70.8], color: RED, shaft: 5, head: 16, headW: 17},
  {from: [63.65, 84.1], to: [63.65, 67.6], color: BLUE, shaft: 5, head: 16, headW: 17}
];

function pts(flat) {
  const out = [];
  for (let i = 0; i < flat.length; i += 2) out.push({x: flat[i], y: flat[i + 1]});
  return out;
}

const arrowPlugin = {
  id: 'arrows',
  afterDatasetsDraw(chart, args, opts) {
    const {ctx} = chart;
    const xs = chart.scales.x, ys = chart.scales.y;
    (opts.items || []).forEach(a => {
      const x0 = xs.getPixelForValue(a.from[0]), y0 = ys.getPixelForValue(a.from[1]);
      const x1 = xs.getPixelForValue(a.to[0]), y1 = ys.getPixelForValue(a.to[1]);
      const ang = Math.atan2(y1 - y0, x1 - x0);
      const bx = x1 - Math.cos(ang) * a.head, by = y1 - Math.sin(ang) * a.head;
      const hx = Math.sin(ang) * a.headW / 2, hy = Math.cos(ang) * a.headW / 2;
      ctx.save();
      ctx.strokeStyle = a.color;
      ctx.fillStyle = a.color;
      ctx.lineWidth = a.shaft;
      ctx.beginPath();
      ctx.moveTo(x0, y0);
      ctx.lineTo(bx + Math.cos(ang), by + Math.sin(ang));
      ctx.stroke();
      ctx.beginPath();
      ctx.moveTo(x1, y1);
      ctx.lineTo(bx + hx, by - hy);
      ctx.lineTo(bx - hx, by + hy);
      ctx.closePath();
      ctx.fill();
      ctx.restore();
    });
  }
};

function makePanel(id, traces, colors, opt) {
  const datasets = [{
    // origin marker
    data: [{x: 0, y: 0}], showLine: false, pointStyle: 'rectRot', pointRadius: 11,
    pointBackgroundColor: '#4f81bd', pointBorderWidth: 0, clip: false
  }];
  traces.forEach((t, i) => datasets.push({
    data: pts(t), borderColor: colors[i], borderWidth: 1.5, pointRadius: 0, tension: 0, fill: false, clip: false
  }));
  return new Chart(document.getElementById(id), {
    type: 'line',
    data: {datasets},
    plugins: [arrowPlugin],
    options: {
      responsive: false,
      layout: {padding: {top: opt.top, right: 26, bottom: opt.bottom, left: 0}},
      plugins: {legend: {display: false}, tooltip: {enabled: false}, arrows: {items: opt.arrows}},
      scales: {
        x: {
          type: 'linear', min: xTicks[0], max: xTicks[1], position: {y: 0},
          border: {color: '#000', width: 3},
          grid: {drawOnChartArea: false, color: '#000', tickLength: 4,
                 tickWidth: c => (c.tick && c.tick.value % 5 === 0 ? 2 : 1)},
          ticks: {stepSize: xTicks[2], autoSkip: false, maxRotation: 0, padding: opt.xPad, color: '#1a1a1a',
                  font: {family: opt.xFont, size: opt.xSize},
                  callback: v => (v % 5 === 0 ? String(v) : '')}
        },
        y: {
          type: 'linear', min: yTicks[0], max: yTicks[1], position: 'left',
          afterFit: s => { s.width = 41.7; },
          border: {color: '#000', width: 4},
          grid: {drawOnChartArea: false, color: '#000', tickLength: 5},
          ticks: {stepSize: yTicks[2], autoSkip: false, padding: 7, color: '#222',
                  font: {family: '"Liberation Serif", "Times New Roman", serif', size: 16}}
        }
      }
    }
  });
}

makePanel('chartA', [a20T1, a20T2, a40T1, a40T2, a60T1, a60T2, a80T1, a80T2, a0T1, a0T2], lineColorsA,
  {top: 10, bottom: 19.6, arrows: arrowsA, xFont: '"Liberation Sans", Arial, sans-serif', xSize: 15, xPad: 7});
makePanel('chartB', [b1, b2, b3, b4, b5, b6, b7, b8, b9, b10], lineColorsB,
  {top: 12.3, bottom: 20.25, arrows: arrowsB, xFont: '"Liberation Serif", "Times New Roman", serif', xSize: 16, xPad: 7});
makePanel('chartC', [c1, c2, c3, c4, c5, c6, c7, c8, c9, c10], lineColorsC,
  {top: 15, bottom: 17.9, arrows: arrowsC, xFont: '"Liberation Sans", Arial, sans-serif', xSize: 15, xPad: 10});

// coloured sample names across the top of panel a
const nameLeft = [155, 215, 277, 333, 395, 453, 515, 575, 635, 680];
const holder = document.getElementById('sampleNames');
sampleNames.forEach((n, i) => {
  const d = document.createElement('div');
  d.className = 'txt hdr';
  d.style.left = nameLeft[i] + 'px';
  d.style.color = nameColors[i];
  d.textContent = n;
  holder.appendChild(d);
});

// key arrows beside panel a
const keyArrows = [
  {x0: 748, x1: 805, y: 121, color: CYAN},
  {x0: 743, x1: 801, y: 171.5, color: GREEN},
  {x0: 753, x1: 799, y: 215, color: BLUE},
  {x0: 748, x1: 806, y: 260, color: RED}
];
const g = document.getElementById('keyArrows');
keyArrows.forEach(k => {
  const hl = 14, hh = 13;
  g.insertAdjacentHTML('beforeend',
    `<line x1="${k.x0}" y1="${k.y}" x2="${k.x1 - hl + 1}" y2="${k.y}" stroke="${k.color}" stroke-width="3.5"/>` +
    `<polygon points="${k.x1},${k.y} ${k.x1 - hl},${k.y - hh / 2} ${k.x1 - hl},${k.y + hh / 2}" fill="${k.color}"/>`);
});
</script>
</body>
</html>
